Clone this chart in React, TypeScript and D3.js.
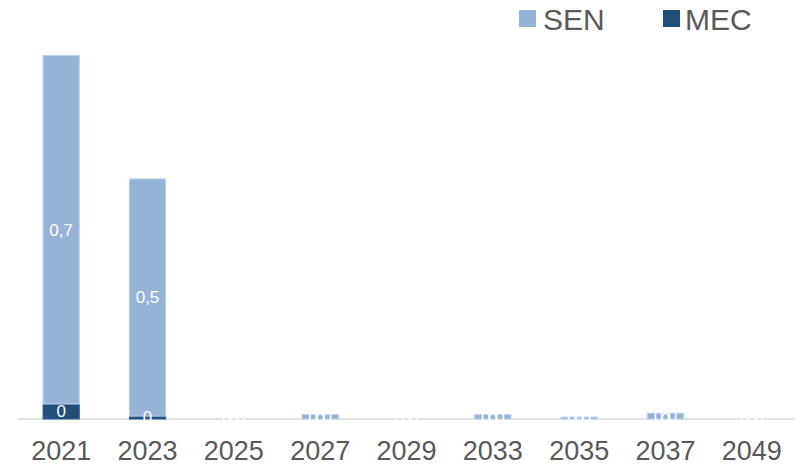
import React from "react";
import * as d3 from "d3";

const categories = ["2021", "2023", "2025", "2027", "2029", "2033", "2035", "2037", "2049"];
const senValues = [0.72, 0.49, 0, 0.009, 0, 0.009, 0.004, 0.012, 0];
const mecValues = [0.031, 0.006, 0, 0, 0, 0, 0, 0, 0];
const seriesNames = ["SEN", "MEC"];
const seriesColors = ["#95B3D7", "#1F4E79"];

const W = 802;
const H = 464;
const plotLeft = 18;
const plotRight = 795;
const baseY = 419;
const yMax = 0.75;
const yTopPx = 56;

export default function App() {
  const x = d3.scaleBand<string>().domain(categories).range([plotLeft, plotRight]).paddingInner(0.58).paddingOuter(0.29);
  const y = d3.scaleLinear().domain([0, yMax]).range([baseY, yTopPx]);
  const fmtSen = (v: number) => d3.format(".1f")(v).replace(".", ",");
  const fmtMec = (v: number) => d3.format(".0f")(v);

  const rows = categories.map((c, i) => ({ cat: c, MEC: mecValues[i], SEN: senValues[i] }));
  const stack = d3.stack<any>().keys(["MEC", "SEN"])(rows);

  return (
    <svg width={W} height={H} style={{ position: "absolute", left: 0, top: 0 }} fontFamily="'Liberation Sans', Arial, sans-serif">
      <rect width={W} height={H} fill="#fff" />
      <line x1={plotLeft} x2={plotRight} y1={baseY} y2={baseY} stroke="#d9d9d9" strokeWidth={1.5} />
      {stack.map((layer) => {
        const key = layer.key as string;
        const color = key === "SEN" ? seriesColors[0] : seriesColors[1];
        return (
          <g key={key}>
            {layer.map((d, i) => {
              const y0 = y(d[0]);
              const y1 = y(d[1]);
              const h = y0 - y1;
              if (h <= 0) return null;
              return (
                <rect key={i} x={x(categories[i])} y={y1} width={x.bandwidth()} height={h} fill={color}
                  stroke={key === "SEN" ? "#bcd0ea" : "#2f5f8c"} strokeWidth={1} />
              );
            })}
          </g>
        );
      })}
      {stack.map((layer) => {
        const key = layer.key as string;
        return (
          <g key={key + "l"}>
            {layer.map((d, i) => {
              const cy = (y(d[0]) + y(d[1])) / 2;
              const v = (d[1] - d[0]) as number;
              const txt = key === "SEN" ? fmtSen(v) : fmtMec(v);
              return (
                <text key={i} x={x(categories[i])! + x.bandwidth() / 2} y={cy} dy="0.35em" textAnchor="middle"
                  fontSize={17} fill="#ffffff">{txt}</text>
              );
            })}
          </g>
        );
      })}
      {categories.map((c) => (
        <text key={c} x={x(c)! + x.bandwidth() / 2} y={460} textAnchor="middle" fontSize={27} fill="#595959">{c}</text>
      ))}
      <g>
        <rect x={519} y={10} width={17} height={17} fill={seriesColors[0]} />
        <text x={543} y={30} fontSize={30} fill="#595959">{seriesNames[0]}</text>
        <rect x={663} y={10} width={17} height={17} fill={seriesColors[1]} />
        <text x={685} y={30} fontSize={30} fill="#595959">{seriesNames[1]}</text>
      </g>
    </svg>
  );
}
